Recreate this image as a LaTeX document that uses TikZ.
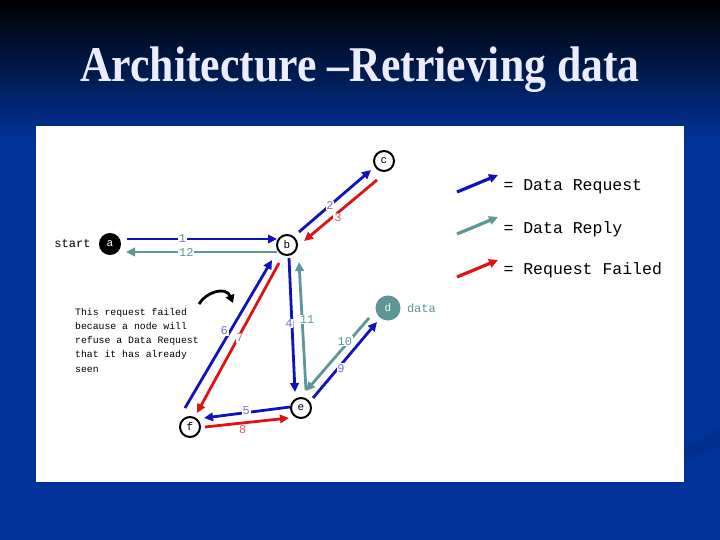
\documentclass[tikz,border=0pt]{standalone}
\usepackage{fontspec}
\setmainfont{Liberation Serif}
\setmonofont{Liberation Mono}
\usetikzlibrary{arrows.meta,positioning,calc}

\definecolor{slideblue}{RGB}{0,51,153}
\definecolor{titlewhite}{RGB}{236,236,255}
\definecolor{reqblue}{RGB}{17,17,190}
\definecolor{replyteal}{RGB}{95,150,150}
\definecolor{failred}{RGB}{220,20,20}

\begin{document}
\begin{tikzpicture}[x=1pt,y=-1pt,
  peer/.style={draw, circle, line width=2pt, minimum size=20pt, inner sep=0pt, fill=white, font=\ttfamily\fontsize{11}{11}\selectfont},
  req/.style={draw=reqblue, line width=2.8pt, -{Triangle[length=9pt,width=8.5pt]}},
  reply/.style={draw=replyteal, line width=2.8pt, -{Triangle[length=9pt,width=8.5pt]}},
  fail/.style={draw=failred, line width=2.8pt, -{Triangle[length=9pt,width=8.5pt]}},
  num/.style={fill=white, inner sep=0.8pt, font=\ttfamily\fontsize{12}{12}\selectfont},
  legend/.style={anchor=west, font=\ttfamily\fontsize{16.5}{16.5}\selectfont}
]
  % slide background and panel
  \fill[slideblue] (0,0) rectangle (720,540);
  \shade[top color=black, bottom color=slideblue] (0,0) rectangle (720,140);
  \fill[slideblue!80!black, opacity=.35] (650,470) .. controls (680,452) and (700,440) .. (720,428) -- (720,446) .. controls (700,455) and (680,462) .. (650,474) -- cycle;
  \fill[white] (36,126) rectangle (684,482);

  \node[font=\bfseries\fontsize{50}{50}\selectfont, text=titlewhite, xscale=.875, transform shape] (title) at (360,70) {Architecture –Retrieving data};

  % peers
  \node[peer, fill=black, text=white] (a) at (110,244) {a};
  \node[peer] (b) at (287,245) {b};
  \node[peer] (c) at (384,161) {c};
  \node[peer, draw=replyteal, fill=replyteal, text=white, minimum size=23pt] (d) at (388,308) {d};
  \node[peer] (e) at (301,408) {e};
  \node[peer] (f) at (190,427) {f};
  \node[left=5pt of a, font=\ttfamily\fontsize{12}{12}\selectfont] (start) {start};
  \node[right=3pt of d, text=replyteal, font=\ttfamily\fontsize{12}{12}\selectfont] (data) {data};

  % messages
  \draw[req] ([shift={(17,-5)}]a.center) -- node[num, pos=.37, text=reqblue!60] {1} ([shift={(-10,-6)}]b.center);
  \draw[reply] ([shift={(-10,7)}]b.center) -- node[num, pos=.6, text=replyteal] {12} ([shift={(16,8)}]a.center);
  \draw[req] ([shift={(12,-13)}]b.center) -- node[num, pos=.43, text=reqblue!60] {2} ([shift={(-13,9)}]c.center);
  \draw[fail] ([shift={(-7,19)}]c.center) -- node[num, pos=.55, xshift=1pt, yshift=-4pt, text=failred!70] {3} ([shift={(17,-4)}]b.center);
  \draw[req] ([shift={(2,13)}]b.center) -- node[num, pos=.49, xshift=-3pt, text=reqblue!60] {4} ([shift={(-6,-16)}]e.center);
  \draw[reply] ([shift={(5,-18)}]e.center) -- node[num, pos=.55, xshift=5pt, text=replyteal] {11} ([shift={(12,17)}]b.center);
  \draw[req] ([shift={(12,-10)}]e.center) -- node[num, pos=.39, xshift=3pt, text=reqblue!60] {9} ([shift={(-11,14)}]d.center);
  \draw[reply] ([shift={(-19,10)}]d.center) -- node[num, pos=.32, xshift=-4pt, text=replyteal] {10} ([shift={(5,-17)}]e.center);
  \draw[req] ([shift={(-11,-1)}]e.center) -- node[num, pos=.51, yshift=2pt, text=reqblue!60] {5} ([shift={(14,-9)}]f.center);
  \draw[fail] ([shift={(15,0)}]f.center) -- node[num, pos=.45, yshift=-7pt, text=failred!70] {8} ([shift={(-12,10)}]e.center);
  \draw[req] ([shift={(-5,-19)}]f.center) -- node[num, pos=.52, xshift=-6pt, text=reqblue!60] {6} ([shift={(-15,15)}]b.center);
  \draw[fail] ([shift={(-8,18)}]b.center) -- node[num, pos=.5, xshift=2pt, text=failred!70] {7} ([shift={(7,-14)}]f.center);

  % note on the failed request
  \node[anchor=north west, align=left, inner sep=0pt, font=\ttfamily\fontsize{9.8}{14.2}\selectfont] (note) at (75,308)
    {This request failed\\because a node will\\refuse a Data Request\\that it has already\\seen};
  \coordinate (bendfrom) at (199,304);
  \coordinate (bendto) at (233,303);
  \draw[line width=2.8pt, -{Triangle[length=8pt,width=9pt]}] (bendfrom) .. controls (206,292) and (226,286) .. (bendto);

  % legend
  \node[legend] (lreq) at (500,187) {= Data Request};
  \node[legend] (lrep) at (500,229) {= Data Reply};
  \node[legend] (lfail) at (500,270) {= Request Failed};
  \draw[req, line width=3.2pt] ([shift={(-43,5)}]lreq.west) -- ([shift={(-2,-12)}]lreq.west);
  \draw[reply, line width=3.2pt] ([shift={(-43,5)}]lrep.west) -- ([shift={(-2,-12)}]lrep.west);
  \draw[fail, line width=3.2pt] ([shift={(-43,7)}]lfail.west) -- ([shift={(-2,-10)}]lfail.west);
\end{tikzpicture}
\end{document}
